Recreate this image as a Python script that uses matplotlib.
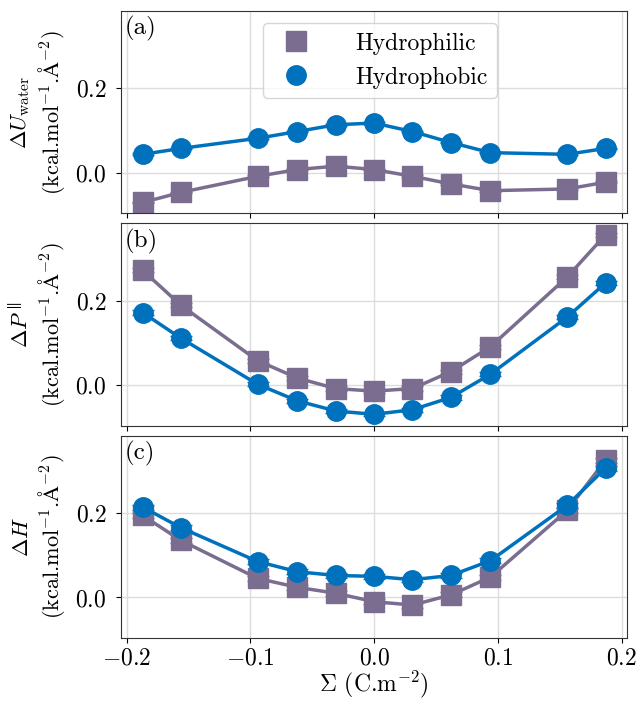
import matplotlib
matplotlib.use("Agg")
import matplotlib.pyplot as plt

# DONNEES
sigma = [-0.187, -0.156, -0.094, -0.062, -0.031, 0.0, 0.031, 0.062, 0.094, 0.156, 0.187]

du_phil = [-0.070, -0.046, -0.008, 0.008, 0.016, 0.008, -0.008, -0.026, -0.042, -0.038, -0.022]
du_phob = [0.044, 0.058, 0.082, 0.098, 0.114, 0.118, 0.098, 0.072, 0.048, 0.044, 0.058]
dp_phil = [0.272, 0.189, 0.058, 0.017, -0.008, -0.014, -0.008, 0.032, 0.091, 0.256, 0.356]
dp_phob = [0.172, 0.111, 0.002, -0.037, -0.061, -0.069, -0.058, -0.029, 0.026, 0.161, 0.242]
dh_phil = [0.194, 0.135, 0.045, 0.024, 0.010, -0.010, -0.018, 0.006, 0.048, 0.206, 0.325]
dh_phob = [0.214, 0.165, 0.085, 0.061, 0.052, 0.050, 0.042, 0.052, 0.087, 0.218, 0.306]

# barres d'erreur (petites)
err_a = [0.002] * 11
err_b = [0.005] * 11
err_c = [0.006] * 11

labels = ["Hydrophilic", "Hydrophobic"]
ylabels = [r"$\Delta U_{\rm water}$",
           r"$\Delta P^{\parallel}$",
           r"$\Delta H$"]
unit = r"(kcal.mol$^{-1}$.$\mathrm{\AA}^{-2}$)"
panels = ["(a)", "(b)", "(c)"]

col_phil = "#7b6d8f"
col_phob = "#0072bd"

# STYLE
plt.rcParams["font.family"] = ["cmr10", "DejaVu Serif"]
plt.rcParams["mathtext.fontset"] = "cm"
plt.rcParams["axes.formatter.use_mathtext"] = True
plt.rcParams["font.size"] = 16

fig, axes = plt.subplots(3, 1, figsize=(6.4, 7.01), dpi=100, sharex=True, sharey=True)
fig.subplots_adjust(left=0.189, right=0.98, top=0.984, bottom=0.09, hspace=0.05)

data = [(du_phil, du_phob, err_a), (dp_phil, dp_phob, err_b), (dh_phil, dh_phob, err_c)]

for i, ax in enumerate(axes):
    phil, phob, err = data[i]
    ax.errorbar(sigma, phil, yerr=err, color=col_phil, marker="s", markersize=14,
                linewidth=2.5, capsize=8, elinewidth=1.5, label=labels[0])
    ax.errorbar(sigma, phob, yerr=err, color=col_phob, marker="o", markersize=14,
                linewidth=2.5, capsize=8, elinewidth=1.5, label=labels[1])
    ax.grid(color="#dcdcdc", linewidth=1)
    ax.set_axisbelow(True)
    ax.set_ylabel(ylabels[i] + "\n" + unit, fontsize=16, linespacing=1.15, labelpad=6)
    ax.text(0.008, 0.975, panels[i], transform=ax.transAxes, va="top", ha="left", fontsize=18)
    ax.tick_params(axis="y", labelsize=17, pad=7)
    ax.tick_params(axis="x", labelsize=17, pad=3)
    for s in ax.spines.values():
        s.set_color("#333333")

axes[0].set_xlim(-0.2045, 0.2045)
axes[0].set_yticks([0.0, 0.2])
axes[2].set_xticks([-0.2, -0.1, 0.0, 0.1, 0.2])
axes[2].set_xlabel(r"$\Sigma$ (C.m$^{-2}$)", fontsize=17, labelpad=0)
fig.align_ylabels(axes)

# LEGENDE (marqueurs seuls)
h0 = plt.Line2D([], [], color=col_phil, marker="s", markersize=14, linestyle="none")
h1 = plt.Line2D([], [], color=col_phob, marker="o", markersize=14, linestyle="none")
axes[0].legend([h0, h1], labels, loc="upper center", bbox_to_anchor=(0.512, 1.0),
               handletextpad=1.5, fontsize=17, framealpha=0.8, edgecolor="#cccccc")

fig.savefig("out.png", dpi=100)
